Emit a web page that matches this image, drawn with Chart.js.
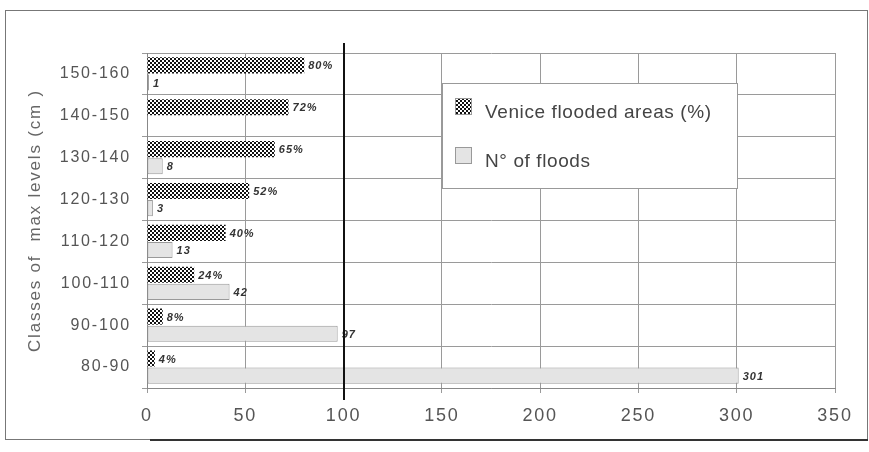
<!DOCTYPE html>
<html>
<head>
<meta charset="utf-8">
<script src="https://cdn.jsdelivr.net/npm/chart.js@4.4.0/dist/chart.umd.min.js"></script>
<style>
    html, body { margin: 0; padding: 0; background: #fff; }
    #holder { position: relative; width: 869px; height: 452px; }
</style>
</head>
<body>
<div id="holder"><canvas id="chart" width="869" height="452"></canvas></div>
<script>
// Data, top row first
const classes = ['150-160', '140-150', '130-140', '120-130', '110-120', '100-110', '90-100', '80-90'];
const floodedAreasPct = [80, 72, 65, 52, 40, 24, 8, 4];
const floodCounts = [1, null, 8, 3, 13, 42, 97, 301];
const xTicks = [0, 50, 100, 150, 200, 250, 300, 350];
const refValue = 100;
const seriesNames = ['Venice flooded areas (%)', 'N° of floods'];
const yTitle = 'Classes of  max levels (cm )';

const FONT = '"Liberation Sans", Arial, sans-serif';

// small black/white checker, like the old printer pattern
function checkerPattern() {
    const c = document.createElement('canvas');
    c.width = 4;
    c.height = 4;
    const g = c.getContext('2d');
    g.fillStyle = '#fff';
    g.fillRect(0, 0, 4, 4);
    g.fillStyle = '#111';
    g.fillRect(0, 0, 2, 2);
    g.fillRect(2, 2, 2, 2);
    return g.createPattern(c, 'repeat');
}

const checker = checkerPattern();
const floodFill = '#e4e4e4';

// spacing the letters a bit, the original type is quite airy
const spacing = {
    id: 'spacing',
    beforeDraw(chart) {
        chart.ctx.letterSpacing = '1.8px';
    }
};

// value labels at the end of each bar
const barLabels = {
    id: 'barLabels',
    afterDatasetsDraw(chart) {
        const ctx = chart.ctx;
        ctx.save();
        ctx.letterSpacing = '1px';
        ctx.font = 'italic bold 11px ' + FONT;
        ctx.fillStyle = '#333';
        ctx.textBaseline = 'middle';
        ctx.textAlign = 'left';
        chart.data.datasets.forEach((ds, i) => {
            chart.getDatasetMeta(i).data.forEach((bar, j) => {
                const v = ds.data[j];
                if (v == null) return;
                ctx.fillText(v + (i === 0 ? '%' : ''), bar.x + 4, bar.y + 1);
            });
        });
        ctx.restore();
    }
};

// thick line at 100, legend box and the outer frame
const extras = {
    id: 'extras',
    afterDraw(chart) {
        const ctx = chart.ctx;
        const area = chart.chartArea;
        const xs = chart.scales.x;
        ctx.save();

        const x = Math.round(xs.getPixelForValue(refValue));
        ctx.strokeStyle = '#111';
        ctx.lineWidth = 2;
        ctx.beginPath();
        ctx.moveTo(x, area.top - 10);
        ctx.lineTo(x, area.bottom + 12);
        ctx.stroke();

        // legend
        ctx.fillStyle = '#fff';
        ctx.fillRect(442, 83, 295, 105);
        ctx.strokeStyle = '#999';
        ctx.lineWidth = 1;
        ctx.strokeRect(442.5, 83.5, 295, 105);

        const fills = [checker, floodFill];
        const rows = [118, 167];
        ctx.letterSpacing = '0.6px';
        ctx.font = '19px ' + FONT;
        ctx.textBaseline = 'alphabetic';
        rows.forEach((base, i) => {
            ctx.fillStyle = fills[i];
            ctx.fillRect(455, base - 20, 16, 16);
            ctx.strokeStyle = '#999';
            ctx.strokeRect(455.5, base - 19.5, 16, 16);
            ctx.fillStyle = '#444';
            ctx.fillText(seriesNames[i], 485, base);
        });

        // outer frame
        ctx.strokeStyle = '#777';
        ctx.lineWidth = 1;
        ctx.strokeRect(5.5, 10.5, 862, 429);
        ctx.strokeStyle = '#333';
        ctx.lineWidth = 2;
        ctx.beginPath();
        ctx.moveTo(150, 440);
        ctx.lineTo(868, 440);
        ctx.stroke();
        ctx.restore();
    }
};

const config = {
    type: 'bar',
    data: {
        labels: classes,
        datasets: [
            {
                label: seriesNames[0],
                data: floodedAreasPct,
                backgroundColor: checker,
                borderWidth: 0
            },
            {
                label: seriesNames[1],
                data: floodCounts,
                backgroundColor: floodFill,
                borderColor: '#999',
                borderWidth: 1,
                borderSkipped: false
            }
        ]
    },
    options: {
        indexAxis: 'y',
        responsive: false,
        animation: false,
        devicePixelRatio: 1,
        categoryPercentage: 0.82,
        barPercentage: 0.94,
        layout: { padding: { left: 25, top: 53, right: 34, bottom: 20 } },
        scales: {
            x: {
                min: 0,
                max: 350,
                afterBuildTicks: (scale) => {
                    scale.ticks = xTicks.map(v => ({ value: v }));
                },
                afterFit: (scale) => { scale.height = 44; },
                grid: { color: '#9a9a9a', tickLength: 5 },
                border: { color: '#888' },
                ticks: { padding: 12, color: '#555', font: { size: 18, family: FONT } }
            },
            y: {
                afterFit: (scale) => { scale.width = 122; },
                grid: { color: '#9a9a9a', tickLength: 5, offset: true },
                border: { color: '#888' },
                ticks: { padding: 11, color: '#555', font: { size: 16, family: FONT } },
                title: {
                    display: true,
                    text: yTitle,
                    color: '#666',
                    padding: 0,
                    font: { size: 17, family: FONT }
                }
            }
        },
        plugins: {
            legend: { display: false },
            tooltip: { enabled: false }
        }
    },
    plugins: [spacing, barLabels, extras]
};

new Chart(document.getElementById('chart').getContext('2d'), config);
</script>
</body>
</html>
